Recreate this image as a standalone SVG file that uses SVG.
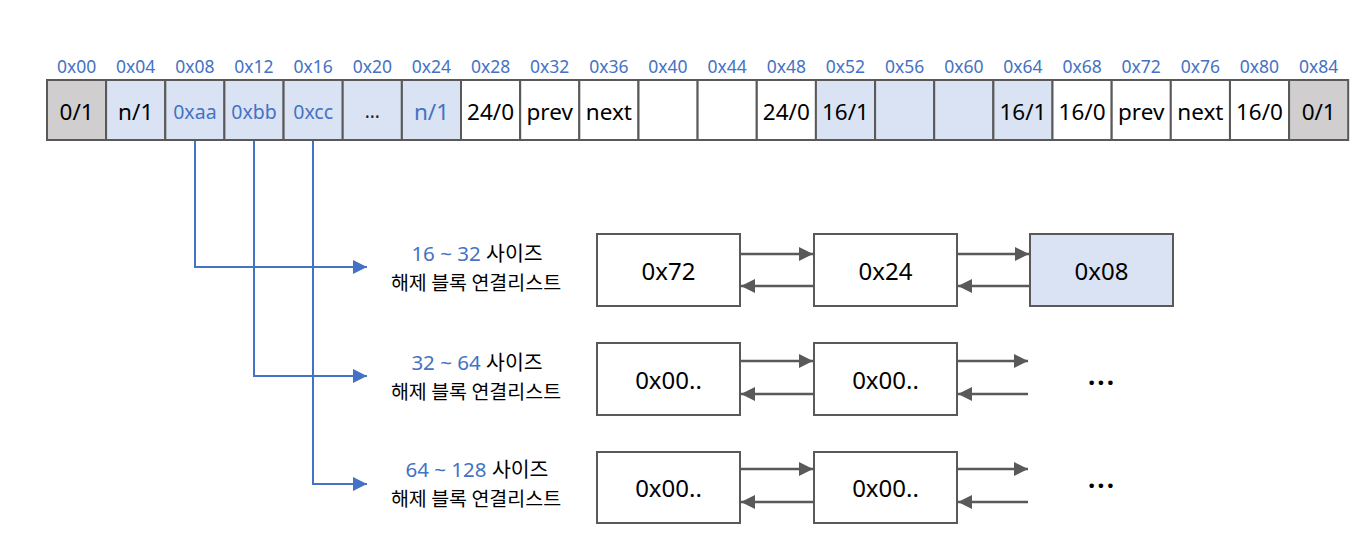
<svg xmlns="http://www.w3.org/2000/svg" width="1370" height="552" viewBox="0 0 1370 552">
<defs>
<style>
.addr{font-family:"Noto Sans","Open Sans",sans-serif;font-size:17.5px;fill:#4472C4;text-anchor:middle;dominant-baseline:central}
.cell{stroke:#595959;stroke-width:2}
.g{fill:#D0CECE}.b{fill:#DAE3F3}.w{fill:#FFFFFF}
.ct{font-family:"Noto Sans","Open Sans",sans-serif;font-size:22.5px;fill:#000;text-anchor:middle;dominant-baseline:central}
.cb{font-family:"Noto Sans","Open Sans",sans-serif;font-size:19.5px;fill:#4472C4;text-anchor:middle;dominant-baseline:central}
.dots{font-family:"Noto Sans","Open Sans",sans-serif;font-size:19px;fill:#222;text-anchor:middle;dominant-baseline:central}
.nb{font-family:"Noto Sans","Open Sans",sans-serif;font-size:22.5px;fill:#4472C4;text-anchor:middle;dominant-baseline:central}
.box{stroke:#595959;stroke-width:2}
.bt{font-family:"Noto Sans","Open Sans",sans-serif;font-size:24px;fill:#000;text-anchor:middle;dominant-baseline:central}
.more{font-family:"Noto Sans","Open Sans",sans-serif;font-size:26px;font-weight:bold;letter-spacing:2px;fill:#000;text-anchor:middle;dominant-baseline:central}
.l1{font-family:"Noto Sans","Noto Sans CJK KR",sans-serif;font-size:20.5px;fill:#000;text-anchor:middle}
.l2{font-family:"Noto Sans CJK KR",sans-serif;font-size:19.5px;fill:#000;text-anchor:middle}
.blue{fill:#4472C4}
.bl{fill:none;stroke:#4472C4;stroke-width:2}
.gl{fill:none;stroke:#595959;stroke-width:2.5}
</style>
<marker id="ab" markerUnits="userSpaceOnUse" markerWidth="14" markerHeight="14" refX="14" refY="7" orient="auto"><path d="M0,0 L14,7 L0,14 z" fill="#4472C4"/></marker>
<marker id="ag" markerUnits="userSpaceOnUse" markerWidth="14" markerHeight="14" refX="14" refY="7" orient="auto"><path d="M0,0 L14,7 L0,14 z" fill="#595959"/></marker>
</defs>
<rect width="1370" height="552" fill="#FFFFFF"/>

<g id="addresses">
<text class="addr" x="76.6" y="66">0x00</text>
<text class="addr" x="135.7" y="66">0x04</text>
<text class="addr" x="194.9" y="66">0x08</text>
<text class="addr" x="254" y="66">0x12</text>
<text class="addr" x="313.2" y="66">0x16</text>
<text class="addr" x="372.3" y="66">0x20</text>
<text class="addr" x="431.5" y="66">0x24</text>
<text class="addr" x="490.6" y="66">0x28</text>
<text class="addr" x="549.7" y="66">0x32</text>
<text class="addr" x="608.9" y="66">0x36</text>
<text class="addr" x="668" y="66">0x40</text>
<text class="addr" x="727.2" y="66">0x44</text>
<text class="addr" x="786.3" y="66">0x48</text>
<text class="addr" x="845.5" y="66">0x52</text>
<text class="addr" x="904.6" y="66">0x56</text>
<text class="addr" x="963.8" y="66">0x60</text>
<text class="addr" x="1022.9" y="66">0x64</text>
<text class="addr" x="1082.1" y="66">0x68</text>
<text class="addr" x="1141.2" y="66">0x72</text>
<text class="addr" x="1200.4" y="66">0x76</text>
<text class="addr" x="1259.5" y="66">0x80</text>
<text class="addr" x="1318.7" y="66">0x84</text>
</g>

<g id="heap">
<rect class="cell g" x="47" y="80" width="59.1" height="60"/>
<rect class="cell b" x="106.1" y="80" width="59.1" height="60"/>
<rect class="cell b" x="165.3" y="80" width="59.1" height="60"/>
<rect class="cell b" x="224.4" y="80" width="59.1" height="60"/>
<rect class="cell b" x="283.6" y="80" width="59.1" height="60"/>
<rect class="cell b" x="342.7" y="80" width="59.1" height="60"/>
<rect class="cell b" x="401.9" y="80" width="59.1" height="60"/>
<rect class="cell w" x="461" y="80" width="59.1" height="60"/>
<rect class="cell w" x="520.2" y="80" width="59.1" height="60"/>
<rect class="cell w" x="579.3" y="80" width="59.1" height="60"/>
<rect class="cell w" x="638.5" y="80" width="59.1" height="60"/>
<rect class="cell w" x="697.6" y="80" width="59.1" height="60"/>
<rect class="cell w" x="756.8" y="80" width="59.1" height="60"/>
<rect class="cell b" x="815.9" y="80" width="59.1" height="60"/>
<rect class="cell b" x="875.1" y="80" width="59.1" height="60"/>
<rect class="cell b" x="934.2" y="80" width="59.1" height="60"/>
<rect class="cell b" x="993.4" y="80" width="59.1" height="60"/>
<rect class="cell w" x="1052.5" y="80" width="59.1" height="60"/>
<rect class="cell w" x="1111.7" y="80" width="59.1" height="60"/>
<rect class="cell w" x="1170.8" y="80" width="59.1" height="60"/>
<rect class="cell w" x="1230" y="80" width="59.1" height="60"/>
<rect class="cell g" x="1289.1" y="80" width="59.1" height="60"/>
<text class="ct" x="76.6" y="111">0/1</text>
<text class="ct" x="135.7" y="111">n/1</text>
<text class="cb" x="194.9" y="111">0xaa</text>
<text class="cb" x="254" y="111">0xbb</text>
<text class="cb" x="313.2" y="111">0xcc</text>
<text class="dots" x="372.3" y="111">...</text>
<text class="nb" x="431.5" y="111">n/1</text>
<text class="ct" x="490.6" y="111">24/0</text>
<text class="ct" x="549.7" y="111">prev</text>
<text class="ct" x="608.9" y="111">next</text>
<text class="ct" x="786.3" y="111">24/0</text>
<text class="ct" x="845.5" y="111">16/1</text>
<text class="ct" x="1022.9" y="111">16/1</text>
<text class="ct" x="1082.1" y="111">16/0</text>
<text class="ct" x="1141.2" y="111">prev</text>
<text class="ct" x="1200.4" y="111">next</text>
<text class="ct" x="1259.5" y="111">16/0</text>
<text class="ct" x="1318.7" y="111">0/1</text>
</g>

<g id="label1">
<text class="l1" x="477" y="261"><tspan class="blue">16 ~ 32</tspan> 사이즈</text>
<text class="l2" x="476" y="290">해제 블록 연결리스트</text>
</g>
<g id="label2">
<text class="l1" x="477" y="370"><tspan class="blue">32 ~ 64</tspan> 사이즈</text>
<text class="l2" x="476" y="399">해제 블록 연결리스트</text>
</g>
<g id="label3">
<text class="l1" x="477" y="477"><tspan class="blue">64 ~ 128</tspan> 사이즈</text>
<text class="l2" x="476" y="506">해제 블록 연결리스트</text>
</g>

<g id="list1">
<g id="n1a"><rect class="box w" x="597" y="234" width="143" height="72"/><text class="bt" x="668.5" y="270">0x72</text></g>
<g id="n1b"><rect class="box w" x="814" y="234" width="143" height="72"/><text class="bt" x="885.5" y="270">0x24</text></g>
<g id="n1c"><rect class="box b" x="1030" y="234" width="143" height="72"/><text class="bt" x="1101.5" y="270">0x08</text></g>
</g>
<g id="list2">
<g id="n2a"><rect class="box w" x="597" y="343" width="143" height="72"/><text class="bt" x="668.5" y="379">0x00..</text></g>
<g id="n2b"><rect class="box w" x="814" y="343" width="143" height="72"/><text class="bt" x="885.5" y="379">0x00..</text></g>
<text id="more2" class="more" x="1102" y="375">...</text>
</g>
<g id="list3">
<g id="n3a"><rect class="box w" x="597" y="452" width="143" height="71"/><text class="bt" x="668.5" y="487">0x00..</text></g>
<g id="n3b"><rect class="box w" x="814" y="452" width="143" height="71"/><text class="bt" x="885.5" y="487">0x00..</text></g>
<text id="more3" class="more" x="1102" y="478">...</text>
</g>

<g id="connectors">
<path class="bl" d="M195 141 V267 H367" marker-end="url(#ab)"/>
<path class="bl" d="M254 141 V376 H367" marker-end="url(#ab)"/>
<path class="bl" d="M313 141 V484 H367" marker-end="url(#ab)"/>
<path class="gl" d="M741 254 H813" marker-end="url(#ag)"/>
<path class="gl" d="M813 286 H741" marker-end="url(#ag)"/>
<path class="gl" d="M958 254 H1029" marker-end="url(#ag)"/>
<path class="gl" d="M1029 286 H958" marker-end="url(#ag)"/>
<path class="gl" d="M741 361 H813" marker-end="url(#ag)"/>
<path class="gl" d="M813 394 H741" marker-end="url(#ag)"/>
<path class="gl" d="M958 361 H1028" marker-end="url(#ag)"/>
<path class="gl" d="M1028 394 H958" marker-end="url(#ag)"/>
<path class="gl" d="M741 469 H813" marker-end="url(#ag)"/>
<path class="gl" d="M813 502 H741" marker-end="url(#ag)"/>
<path class="gl" d="M958 469 H1028" marker-end="url(#ag)"/>
<path class="gl" d="M1028 502 H958" marker-end="url(#ag)"/>
</g>
</svg>
